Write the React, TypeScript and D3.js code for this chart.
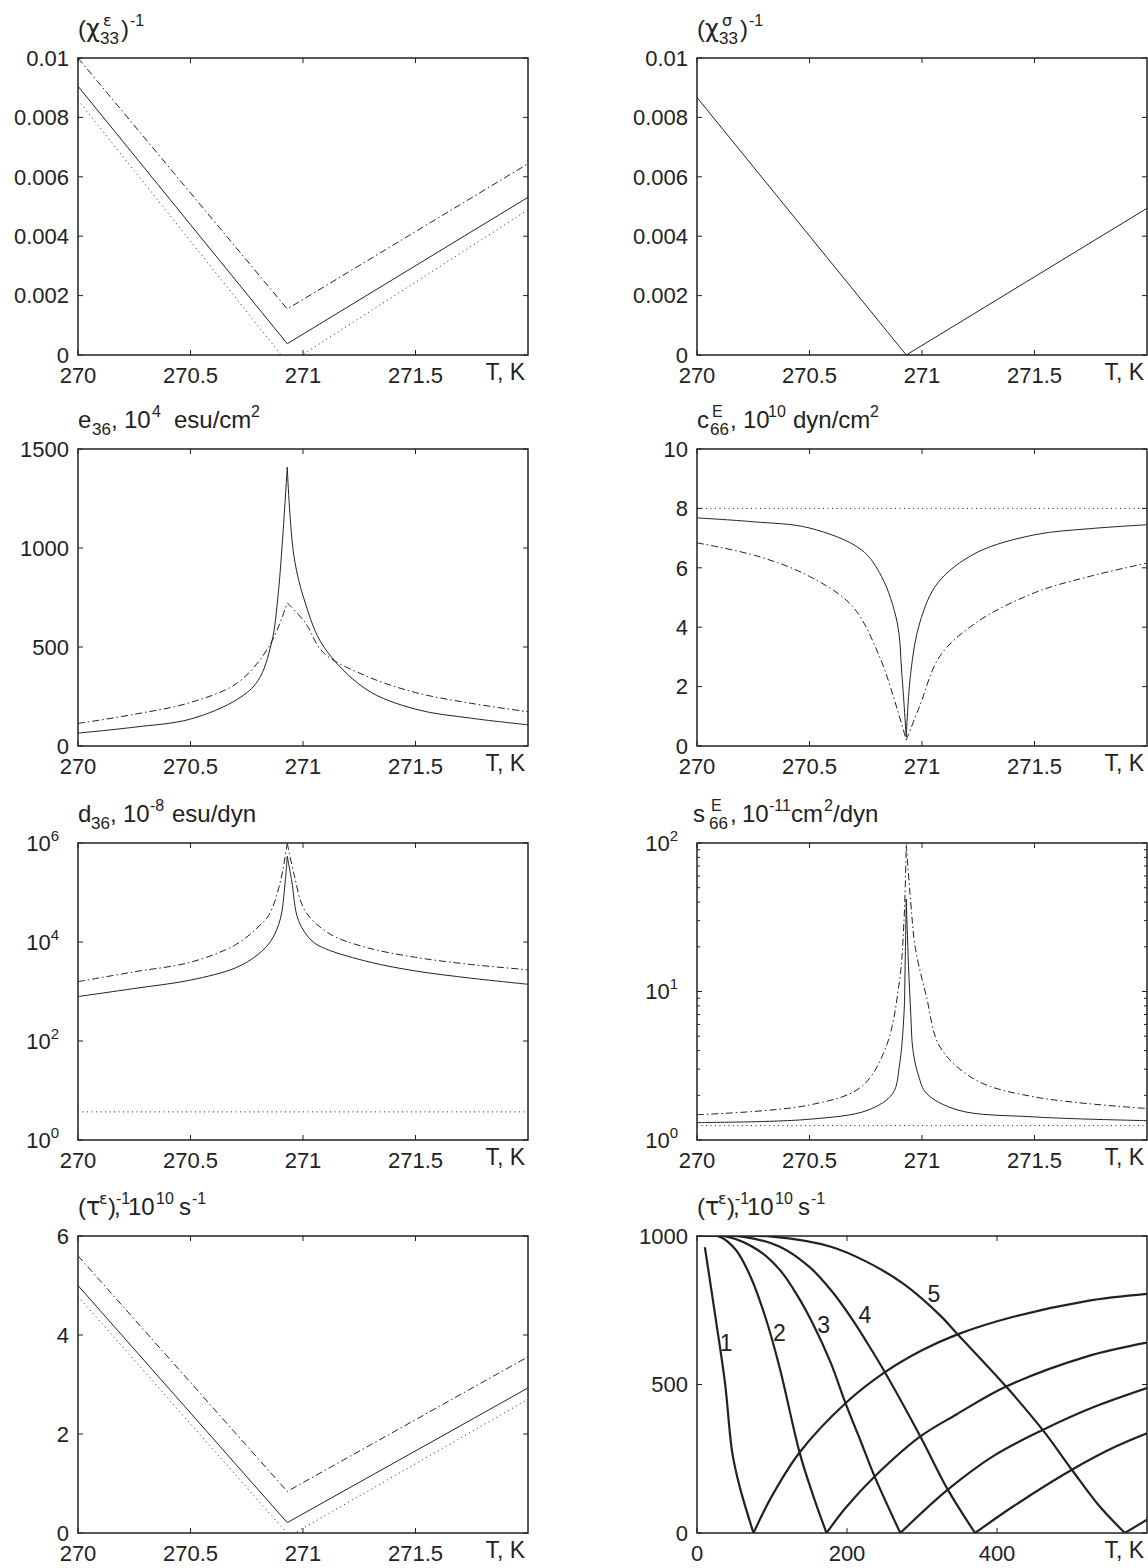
import React, { useEffect, useRef } from "react";
import * as d3 from "d3";

const W = 1148;
const H = 1568;
const COL_X = [78, 697];
const ROW_Y = [58, 449, 843, 1236];
const PW = 450;
const PH = 297;
const INK = "#222";
const FONT = "'Liberation Sans', Arial, Helvetica, sans-serif";
const GREEK_FONT = "'DejaVu Sans', 'Liberation Sans', sans-serif";

const tDomain = [270, 272];
const tTicks = [270, 270.5, 271, 271.5];

// inverse susceptibility, clamped crystal
const chiEpsSolid = [[270, 0.00905], [270.93, 0.00038], [272, 0.00531]];
const chiEpsDashDot = [[270, 0.0100], [270.93, 0.00155], [272, 0.00644]];
const chiEpsDotted = [[270, 0.00858], [270.935, -0.0003], [272, 0.00489]];
// free crystal
const chiSigSolid = [[270, 0.00867], [270.93, 0], [272, 0.00494]];
const chiTicks = [0, 0.002, 0.004, 0.006, 0.008, 0.01];

// piezo coefficient e36
const e36Solid = [[270, 65], [270.25, 95], [270.5, 136], [270.71, 237], [270.8, 330], [270.86, 520], [270.89, 770], [270.93, 1408], [270.96, 958], [271.01, 723], [271.09, 505], [271.28, 287], [271.5, 186], [271.75, 140], [272, 107]];
const e36DashDot = [[270, 114], [270.25, 160], [270.5, 220], [270.71, 320], [270.85, 505], [270.93, 723], [271.01, 623], [271.09, 472], [271.28, 354], [271.5, 270], [271.75, 215], [272, 173]];
const e36Ticks = [0, 500, 1000, 1500];

// elastic constant c66
const c66Solid = [[270, 7.68], [270.25, 7.55], [270.5, 7.34], [270.73, 6.61], [270.82, 5.71], [270.89, 4.15], [270.91, 2.47], [270.93, 0.3], [270.95, 2.47], [270.99, 4.15], [271.07, 5.49], [271.24, 6.5], [271.5, 7.11], [271.75, 7.32], [272, 7.45]];
const c66DashDot = [[270, 6.84], [270.27, 6.39], [270.5, 5.71], [270.69, 4.71], [270.81, 3.03], [270.89, 1.24], [270.93, 0.2], [270.99, 1.35], [271.08, 3.03], [271.24, 4.15], [271.5, 5.16], [271.75, 5.72], [272, 6.16]];
const c66Dotted = [[270, 8], [272, 8]];
const c66Ticks = [0, 2, 4, 6, 8, 10];

// piezo module d36 (log)
const d36Solid = [[270, 790], [270.25, 1150], [270.5, 1700], [270.7, 3000], [270.8, 5600], [270.86, 11000], [270.9, 30000], [270.92, 150000], [270.93, 540000], [270.95, 170000], [270.98, 27000], [271.04, 10500], [271.1, 7300], [271.3, 3900], [271.5, 2600], [271.75, 1850], [272, 1400]];
const d36DashDot = [[270, 1580], [270.25, 2500], [270.5, 3900], [270.7, 8800], [270.8, 20000], [270.85, 36000], [270.9, 170000], [270.93, 1000000], [270.96, 234000], [271.01, 42000], [271.12, 14500], [271.28, 7800], [271.5, 4900], [271.75, 3500], [272, 2750]];
const d36Dotted = [[270, 3.7], [272, 3.7]];
const d36Exps = [0, 2, 4, 6];

// compliance s66 (log)
const s66Solid = [[270, 1.31], [270.5, 1.38], [270.76, 1.59], [270.87, 2.06], [270.9, 3.2], [270.92, 7.1], [270.925, 15], [270.93, 42], [270.94, 15], [270.95, 7.1], [270.96, 4.0], [270.985, 2.7], [271.02, 2.06], [271.16, 1.59], [271.5, 1.43], [272, 1.35]];
const s66DashDot = [[270, 1.48], [270.5, 1.72], [270.73, 2.28], [270.84, 4.23], [270.9, 11.8], [270.92, 30], [270.93, 98], [270.95, 40], [270.97, 19.8], [271.02, 9.2], [271.08, 4.23], [271.24, 2.53], [271.5, 1.95], [272, 1.63]];
const s66Dotted = [[270, 1.25], [272, 1.25]];
const s66Exps = [0, 1, 2];

// inverse relaxation time
const tauSolid = [[270, 5.0], [270.93, 0.21], [272, 2.93]];
const tauDashDot = [[270, 5.6], [270.93, 0.84], [272, 3.56]];
const tauDotted = [[270, 4.78], [270.94, -0.06], [272, 2.7]];
const tauTicks = [0, 2, 4, 6];

// wide temperature range, curves 1..5
const wideDomain = [0, 600];
const wideTicks = [0, 200, 400];
const rateTicks = [0, 500, 1000];
const fall1 = [[10.5, 962], [25.2, 717], [37.4, 504], [47.1, 269], [56.8, 157], [75.3, 0]];
const fall2 = [[0, 1000], [30, 998], [51.9, 953], [71.4, 863], [90.9, 729], [110.4, 555], [137, 269], [155, 125], [172.7, 0]];
const fall3 = [[0, 1000], [40, 998], [81, 953], [110.4, 886], [134.7, 796], [154.2, 706], [178.5, 572], [198, 437], [217.5, 314], [236.9, 190], [271.1, 0]];
const fall4 = [[0, 1000], [60, 998], [110.4, 964], [149.4, 897], [178.5, 818], [207.7, 717], [227.2, 639], [249.2, 547], [297.8, 325], [334.4, 146], [370.8, 0]];
const fall5 = [[0, 1000], [100, 998], [178.5, 964], [227.2, 912], [275.9, 838], [324.5, 732], [346.5, 672], [412.2, 493], [460.9, 347], [499.8, 213], [535, 95], [570.5, 0]];
const riseA = [[75.3, 0], [100, 125], [137, 272], [198, 437], [249.2, 539], [300, 615], [346.5, 668], [421.9, 728], [519.3, 781], [600, 805]];
const riseB = [[172.7, 0], [198, 84], [236.9, 190], [297.8, 325], [346.5, 400], [412.2, 493], [519.3, 594], [600, 641]];
const riseC = [[271.1, 0], [334.4, 146], [397.6, 263], [460.9, 347], [529, 424], [600, 488]];
const riseD = [[370.8, 0], [421.9, 90], [499.8, 213], [558.2, 291], [600, 336]];
const riseE = [[570.5, 0], [600, 45]];
const curveNames = ["1", "2", "3", "4", "5"];
const curveNameT = [39, 110, 169, 224, 316];
const curveNameV = [640, 675, 700, 735, 805];

// title pieces: text, x offset, kind
const titleChiEps = [["(", 0, "n"], ["χ", 8, "n"], ["ε", 25, "sup"], ["33", 22, "sub"], [")", 43, "n"], ["-1", 52, "sup"]];
const titleChiSig = [["(", 0, "n"], ["χ", 8, "n"], ["σ", 25, "sup"], ["33", 22, "sub"], [")", 43, "n"], ["-1", 52, "sup"]];
const titleE36 = [["e", 0, "n"], ["36", 14, "sub"], [",", 33, "n"], ["10", 46, "n"], ["4", 74, "sup"], ["esu/cm", 96, "n"], ["2", 173, "sup"]];
const titleC66 = [["c", 0, "n"], ["E", 15, "sup"], ["66", 13, "sub"], [",", 33, "n"], ["10", 46, "n"], ["10", 71, "sup"], ["dyn/cm", 96, "n"], ["2", 173, "sup"]];
const titleD36 = [["d", 0, "n"], ["36", 13, "sub"], [",", 32, "n"], ["10", 45, "n"], ["-8", 72, "sup"], ["esu/dyn", 94, "n"]];
const titleS66 = [["s", 0, "n"], ["E", 18, "sup"], ["66", 16, "sub"], [",", 37, "n"], ["10", 49, "n"], ["-11", 76, "sup"], ["cm", 98, "n"], ["2", 131, "sup"], ["/dyn", 140, "n"]];
const titleTau = [["(", 0, "n"], ["τ", 8, "n"], ["ε", 21, "sup"], [")", 30, "n"], ["-1", 38, "sup"], [",", 36, "n"], ["10", 50, "n"], ["10", 78, "sup"], ["s", 101, "n"], ["-1", 114, "sup"]];

const DASH: Record<string, string | null> = { solid: null, dashdot: "7,3,1.5,3", dotted: "1,3.5" };

const panels = [
  { col: 0, row: 0, title: titleChiEps, xDomain: tDomain, xTicks: tTicks, yDomain: [0, 0.01], yTicks: chiTicks,
    series: [{ data: chiEpsDotted, style: "dotted" }, { data: chiEpsDashDot, style: "dashdot" }, { data: chiEpsSolid, style: "solid" }] },
  { col: 1, row: 0, title: titleChiSig, xDomain: tDomain, xTicks: tTicks, yDomain: [0, 0.01], yTicks: chiTicks,
    series: [{ data: chiSigSolid, style: "solid" }] },
  { col: 0, row: 1, title: titleE36, xDomain: tDomain, xTicks: tTicks, yDomain: [0, 1500], yTicks: e36Ticks,
    series: [{ data: e36DashDot, style: "dashdot", split: "max" }, { data: e36Solid, style: "solid", split: "max" }] },
  { col: 1, row: 1, title: titleC66, xDomain: tDomain, xTicks: tTicks, yDomain: [0, 10], yTicks: c66Ticks,
    series: [{ data: c66Dotted, style: "dotted" }, { data: c66DashDot, style: "dashdot", split: "min" }, { data: c66Solid, style: "solid", split: "min" }] },
  { col: 0, row: 2, title: titleD36, xDomain: tDomain, xTicks: tTicks, log: true, yDomain: [1, 1e6], yExps: d36Exps,
    series: [{ data: d36Dotted, style: "dotted" }, { data: d36DashDot, style: "dashdot", split: "max" }, { data: d36Solid, style: "solid", split: "max" }] },
  { col: 1, row: 2, title: titleS66, titleShift: -4, xDomain: tDomain, xTicks: tTicks, log: true, minor: true, yDomain: [1, 100], yExps: s66Exps,
    series: [{ data: s66Dotted, style: "dotted" }, { data: s66DashDot, style: "dashdot", split: "max" }, { data: s66Solid, style: "solid", split: "max" }] },
  { col: 0, row: 3, title: titleTau, xDomain: tDomain, xTicks: tTicks, yDomain: [0, 6], yTicks: tauTicks,
    series: [{ data: tauDotted, style: "dotted" }, { data: tauDashDot, style: "dashdot" }, { data: tauSolid, style: "solid" }] },
  { col: 1, row: 3, title: titleTau, xDomain: wideDomain, xTicks: wideTicks, yDomain: [0, 1000], yTicks: rateTicks, numbered: true,
    series: [fall1, fall2, fall3, fall4, fall5, riseA, riseB, riseC, riseD, riseE].map(d => ({ data: d, style: "solid", width: 2.2, smooth: true })) },
];

function splitAt(data: number[][], mode: string) {
  const vals = data.map(d => d[1]);
  const idx = mode === "max" ? d3.maxIndex(vals) : d3.minIndex(vals);
  return [data.slice(0, idx + 1), data.slice(idx)];
}

function drawPanel(svg: any, p: any, i: number) {
  const x0 = COL_X[p.col];
  const y0 = ROW_Y[p.row];
  const g = svg.append("g").attr("transform", `translate(${x0},${y0})`);

  const x = d3.scaleLinear().domain(p.xDomain).range([0, PW]);
  const y: any = p.log
    ? d3.scaleLog().domain(p.yDomain).range([PH, 0])
    : d3.scaleLinear().domain(p.yDomain).range([PH, 0]);

  const clipId = `clip-${i}`;
  g.append("clipPath").attr("id", clipId).append("rect").attr("width", PW).attr("height", PH);
  const plot = g.append("g").attr("clip-path", `url(#${clipId})`);

  p.series.forEach((s: any) => {
    const curved = s.split || s.smooth;
    const line = d3.line<number[]>()
      .x(d => x(d[0]))
      .y(d => y(d[1]))
      .curve(curved ? d3.curveCatmullRom.alpha(0.5) : d3.curveLinear);
    const pieces = s.split ? splitAt(s.data, s.split) : [s.data];
    pieces.forEach((pc: number[][]) => {
      plot.append("path")
        .attr("d", line(pc))
        .attr("fill", "none")
        .attr("stroke", INK)
        .attr("stroke-width", s.width ?? 1)
        .attr("stroke-linejoin", "round")
        .attr("stroke-dasharray", DASH[s.style]);
    });
  });

  // frame
  g.append("rect")
    .attr("width", PW).attr("height", PH)
    .attr("fill", "none").attr("stroke", INK).attr("stroke-width", 1.5);

  const tickLen = 5;
  const tk = g.append("g").attr("stroke", INK).attr("stroke-width", 1);
  p.xTicks.forEach((t: number) => {
    tk.append("line").attr("x1", x(t)).attr("x2", x(t)).attr("y1", PH).attr("y2", PH - tickLen);
    tk.append("line").attr("x1", x(t)).attr("x2", x(t)).attr("y1", 0).attr("y2", tickLen);
  });
  const yMajor = p.log ? p.yExps.map((e: number) => Math.pow(10, e)) : p.yTicks;
  yMajor.forEach((t: number) => {
    tk.append("line").attr("x1", 0).attr("x2", tickLen).attr("y1", y(t)).attr("y2", y(t));
    tk.append("line").attr("x1", PW).attr("x2", PW - tickLen).attr("y1", y(t)).attr("y2", y(t));
  });
  if (p.minor) {
    y.ticks().filter((t: number) => !yMajor.includes(t)).forEach((t: number) => {
      tk.append("line").attr("x1", 0).attr("x2", 3).attr("y1", y(t)).attr("y2", y(t));
      tk.append("line").attr("x1", PW).attr("x2", PW - 3).attr("y1", y(t)).attr("y2", y(t));
    });
  }

  const txt = g.append("g").attr("fill", INK).attr("font-family", FONT).attr("font-size", 22);
  p.xTicks.forEach((t: number) => {
    txt.append("text").attr("x", x(t)).attr("y", PH + 28).attr("text-anchor", "middle").text(String(t));
  });
  txt.append("text").attr("x", PW - 3).attr("y", PH + 25).attr("text-anchor", "end").attr("font-size", 23).text("T, K");

  if (p.log) {
    p.yExps.forEach((e: number) => {
      const lab = txt.append("text").attr("x", -19).attr("y", y(Math.pow(10, e))).attr("dy", "0.35em").attr("text-anchor", "end");
      lab.append("tspan").text("10");
      lab.append("tspan").attr("dy", -10).attr("font-size", 15).text(String(e));
    });
  } else {
    p.yTicks.forEach((t: number) => {
      txt.append("text").attr("x", -9).attr("y", y(t)).attr("dy", "0.35em").attr("text-anchor", "end").text(String(t));
    });
  }

  if (p.numbered) {
    curveNames.forEach((n, k) => {
      txt.append("text").attr("x", x(curveNameT[k])).attr("y", y(curveNameV[k])).attr("dy", "0.35em")
        .attr("text-anchor", "middle").attr("font-size", 23).text(n);
    });
  }

  // title with sub/superscripts
  const tx = p.titleShift ?? 0;
  const base = -21;
  const title = g.append("text").attr("fill", INK).attr("font-family", FONT);
  p.title.forEach(([s, dx, kind]: [string, number, string]) => {
    title.append("tspan")
      .attr("x", tx + dx)
      .attr("y", kind === "sup" ? base - 11 : kind === "sub" ? base + 7 : base)
      .attr("font-size", kind === "sup" ? 16 : kind === "sub" ? 17 : 24)
      .attr("font-family", /[α-ω]/.test(s) ? GREEK_FONT : null)
      .text(s);
  });
}

export default function App() {
  const ref = useRef<SVGSVGElement>(null);

  useEffect(() => {
    const svg = d3.select(ref.current);
    svg.selectAll("*").remove();
    panels.forEach((p, i) => drawPanel(svg, p, i));
  }, []);

  return (
    <svg
      ref={ref}
      width={W}
      height={H}
      style={{ position: "absolute", left: 0, top: 0, background: "#fff" }}
    />
  );
}
